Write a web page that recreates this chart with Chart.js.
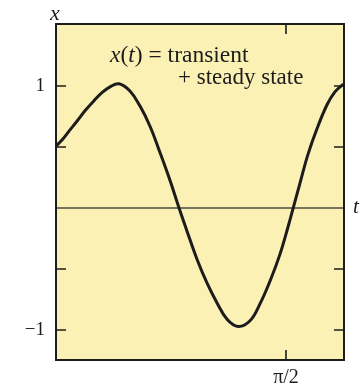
<!DOCTYPE html>
<html>
<head>
<meta charset="utf-8">
<script src="https://cdn.jsdelivr.net/npm/chart.js@4.4.1/dist/chart.umd.min.js"></script>
<style>
  html, body { margin: 0; padding: 0; background: #ffffff; }
  #wrap { width: 363px; height: 387px; position: relative; }
</style>
</head>
<body>
<div id="wrap"><canvas id="c" width="363" height="387"></canvas></div>
<script>
// x(t): transient + steady-state response, sampled along t
const tValues = [0, 0.041, 0.089, 0.143, 0.198, 0.260, 0.314, 0.369, 0.430, 0.505, 0.574, 0.642, 0.710,
                 0.779, 0.833, 0.895, 0.963, 1.031, 1.100, 1.168, 1.243, 1.325, 1.393, 1.462, 1.530,
                 1.584, 1.625, 1.666, 1.721, 1.783, 1.851, 1.905, 1.962];
const xValues = [0.508, 0.557, 0.630, 0.711, 0.797, 0.880, 0.945, 0.993, 1.018, 0.959, 0.835, 0.670, 0.455,
                 0.225, 0.027, -0.190, -0.420, -0.614, -0.778, -0.912, -0.971, -0.924, -0.786, -0.598, -0.378,
                 -0.158, 0.022, 0.202, 0.439, 0.651, 0.846, 0.952, 1.016];

// axis ticks
const tTickValues = [Math.PI / 2];
const tTickLabels = ['π/2'];
const xTickValues = [-1, -0.5, 0, 0.5, 1];
const xTickLabels = ['−1', '', '', '', '1'];

const T_MIN = 0, T_MAX = 1.967;
const X_MIN = -1.246, X_MAX = 1.508;

const SERIF = '"Liberation Serif", "DejaVu Serif", serif';
const PAPER = '#fbf1b4';
const INK = '#1c1c1c';

const framePlugin = {
  id: 'frame',
  beforeDraw(chart) {
    const { ctx, chartArea: a } = chart;
    ctx.save();
    ctx.fillStyle = PAPER;
    ctx.fillRect(a.left, a.top, a.right - a.left, a.bottom - a.top);
    ctx.restore();
  },
  beforeDatasetsDraw(chart) {
    const { ctx, chartArea: a, scales } = chart;
    const ys = scales.y, xs = scales.x;
    ctx.save();
    // t axis line at x = 0
    const y0 = ys.getPixelForValue(0);
    ctx.strokeStyle = '#4a4a40';
    ctx.lineWidth = 1.6;
    ctx.beginPath();
    ctx.moveTo(a.left, y0);
    ctx.lineTo(a.right, y0);
    ctx.stroke();
    // inward tick marks
    ctx.strokeStyle = INK;
    ctx.lineWidth = 1.6;
    xTickValues.forEach(v => {
      if (v === 0) return;
      const py = ys.getPixelForValue(v);
      ctx.beginPath();
      ctx.moveTo(a.left, py); ctx.lineTo(a.left + 10, py);
      ctx.moveTo(a.right, py); ctx.lineTo(a.right - 10, py);
      ctx.stroke();
    });
    tTickValues.forEach(v => {
      const px = xs.getPixelForValue(v);
      ctx.beginPath();
      ctx.moveTo(px, a.bottom); ctx.lineTo(px, a.bottom - 10);
      ctx.moveTo(px, a.top); ctx.lineTo(px, a.top + 10);
      ctx.stroke();
    });
    // frame
    ctx.lineWidth = 2;
    ctx.strokeRect(a.left, a.top, a.right - a.left, a.bottom - a.top);
    ctx.restore();
  },
  afterDraw(chart) {
    const { ctx, chartArea: a } = chart;
    ctx.save();
    ctx.fillStyle = INK;
    ctx.textBaseline = 'alphabetic';
    ctx.textAlign = 'left';
    // axis names
    ctx.font = 'italic 22px ' + SERIF;
    ctx.fillText('x', a.left - 6, 20);
    ctx.font = 'italic 21px ' + SERIF;
    ctx.fillText('t', a.right + 9, 213);
    // annotation
    let x = 110;
    const base1 = 62;
    const parts = [
      ['italic', 'x'], ['normal', '('], ['italic', 't'], ['normal', ') = transient']
    ];
    parts.forEach(([style, txt]) => {
      ctx.font = style + ' 23.5px ' + SERIF;
      ctx.fillText(txt, x, base1);
      x += ctx.measureText(txt).width;
    });
    ctx.font = 'normal 23px ' + SERIF;
    ctx.fillText('+ steady state', 178, 84);
    ctx.restore();
  }
};

new Chart(document.getElementById('c'), {
  type: 'line',
  data: {
    datasets: [{
      data: tValues.map((t, i) => ({ x: t, y: xValues[i] })),
      borderColor: INK,
      borderWidth: 3,
      pointRadius: 0,
      fill: false,
      tension: 0.4
    }]
  },
  options: {
    responsive: false,
    animation: false,
    devicePixelRatio: 1,
    layout: { padding: { top: 24, right: 19, left: 0, bottom: 0 } },
    plugins: { legend: { display: false }, tooltip: { enabled: false } },
    scales: {
      x: {
        type: 'linear',
        min: T_MIN, max: T_MAX,
        grid: { display: false, drawTicks: false },
        border: { display: false },
        afterBuildTicks(s) { s.ticks = tTickValues.map(v => ({ value: v })); },
        afterFit(s) { s.height = 27; },
        ticks: {
          padding: 6,
          color: INK,
          font: { family: SERIF, size: 20 },
          callback: (v) => tTickLabels[tTickValues.indexOf(v)] ?? ''
        }
      },
      y: {
        type: 'linear',
        min: X_MIN, max: X_MAX,
        grid: { display: false, drawTicks: false },
        border: { display: false },
        afterBuildTicks(s) { s.ticks = xTickValues.map(v => ({ value: v })); },
        afterFit(s) { s.width = 56; },
        ticks: {
          padding: 11,
          color: INK,
          font: { family: SERIF, size: 19 },
          callback: (v) => xTickLabels[xTickValues.indexOf(v)] ?? ''
        }
      }
    }
  },
  plugins: [framePlugin]
});
</script>
</body>
</html>
